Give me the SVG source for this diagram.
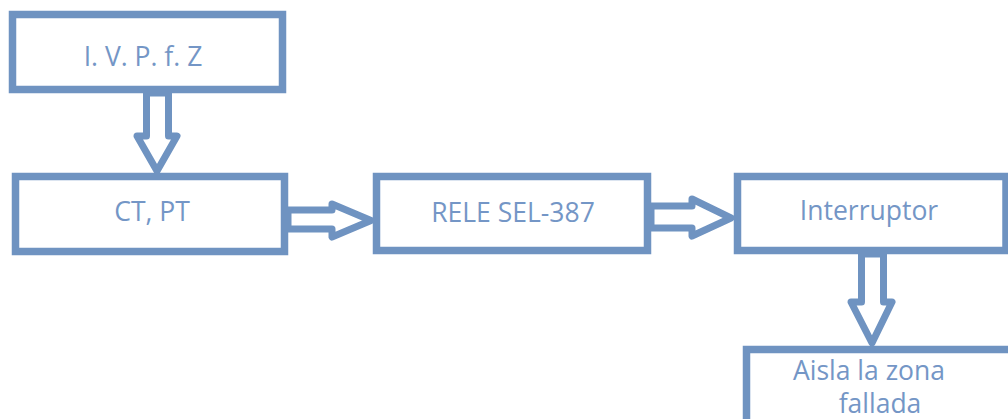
<svg xmlns="http://www.w3.org/2000/svg" width="1008" height="419" viewBox="0 0 1008 419">
  <style>
    .box { fill: #ffffff; stroke: #6f93c1; stroke-width: 7.5; }
    .arrow { fill: #ffffff; stroke: #6f93c1; stroke-width: 7; stroke-linejoin: round; }
    .label { font-family: "Open Sans", "Noto Sans", "Liberation Sans", sans-serif; font-size: 26.5px; fill: #7496c6; text-anchor: middle; }
  </style>
  <rect width="1008" height="419" fill="#ffffff"/>

  <!-- connectors: block arrows -->
  <g id="connectors">
    <path class="arrow" d="M146.5,93 V136 H137 L157,171 L177,136 H168.5 V93 Z"/>
    <path class="arrow" d="M288,210 H332 V204 L371,220.5 L332,237 V229 H288 Z"/>
    <path class="arrow" d="M651,206 H692 V199 L731,218 L692,236 V228 H651 Z"/>
    <path class="arrow" d="M861.5,254 V302 H851 L872,343 L892,302 H883.5 V254 Z"/>
  </g>

  <g id="node-magnitudes">
    <rect class="box" x="12.5" y="14.5" width="270" height="75"/>
    <text class="label" x="143" y="66">I. V. P. f. Z</text>
  </g>

  <g id="node-transformers">
    <rect class="box" x="15.5" y="176.5" width="269" height="75"/>
    <text class="label" x="152" y="221">CT, PT</text>
  </g>

  <g id="node-relay">
    <rect class="box" x="376.5" y="176.5" width="271" height="74"/>
    <text class="label" x="513" y="222">RELE SEL-387</text>
  </g>

  <g id="node-breaker">
    <rect class="box" x="737.5" y="176.5" width="268.5" height="74"/>
    <text class="label" x="869" y="220">Interruptor</text>
  </g>

  <g id="node-isolation">
    <rect class="box" x="746.5" y="349.5" width="280" height="100"/>
    <text class="label" x="869" y="380">Aisla la zona</text>
    <text class="label" x="880" y="413">fallada</text>
  </g>
</svg>
